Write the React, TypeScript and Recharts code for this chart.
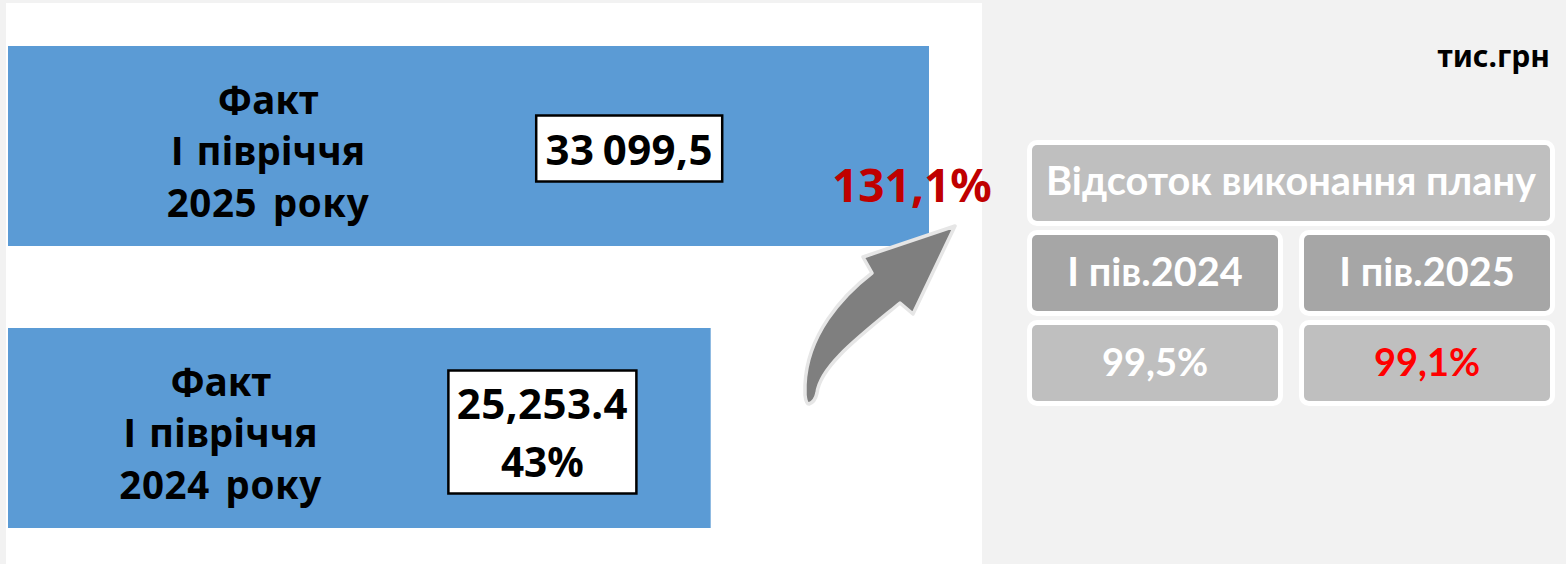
import React from "react";
import { BarChart, Bar, XAxis, YAxis, LabelList } from "recharts";

const categories = ["2025", "2024"];
const factValues = [33099.5, 25253.4];
const categoryLines = [
  ["Факт", "І півріччя", "2025 року"],
  ["Факт", "І півріччя", "2024 року"],
];
const valueLines = [["33 099,5"], ["25,253.4", "43%"]];
const growthLabel = "131,1%";
const unitLabel = "тис.грн";
const tableTitle = "Відсоток виконання плану";
const tablePeriods = ["І пів.2024", "І пів.2025"];
const tableValues = ["99,5%", "99,1%"];

const chartData = categories.map((c, i) => ({ category: c, fact: factValues[i], index: i }));

const categoryFont = "'Noto Sans', sans-serif";
const tableFont = "Lato, sans-serif";

// layout of the annotation inside each bar, as a share of the bar length
const captionShare = [0.2823, 0.3025];
const boxShare = [0.6745, 0.7605];
const boxSize = [
  { w: 186, h: 66 },
  { w: 188, h: 123 },
];

function BarNote(props: any) {
  const { x, y, width, height, index } = props;
  const cx = x + width * captionShare[index];
  const cy = y + height / 2;
  const bx = x + width * boxShare[index];
  const size = boxSize[index];
  const lines = valueLines[index];
  return (
    <g>
      {categoryLines[index].map((line, i) => (
        <text
          key={line}
          x={cx}
          y={cy - 32.5 + i * 51.5}
          textAnchor="middle"
          fontFamily={categoryFont}
          fontWeight={700}
          fontSize={38.5}
          wordSpacing={i === 2 ? 5 : 3}
          letterSpacing={i === 2 ? 0.6 : 0}
          fill="#000"
        >
          {line}
        </text>
      ))}
      <rect
        x={bx - size.w / 2}
        y={cy - size.h / 2 + (index === 0 ? 2.5 : 4)}
        width={size.w}
        height={size.h}
        fill="#fff"
        stroke="#000"
        strokeWidth={2.5}
      />
      {lines.map((line, i) => (
        <text
          key={line}
          x={bx}
          y={lines.length === 1 ? cy + 19 : cy - 9 + i * 58}
          textAnchor="middle"
          fontFamily={categoryFont}
          fontWeight={700}
          fontSize={i === 1 ? 40.5 : 42}
          wordSpacing={-3}
          letterSpacing={i === 1 ? 0 : 0.4}
          fill="#000"
        >
          {line}
        </text>
      ))}
    </g>
  );
}

const cell = (left: number, top: number, right: number, bottom: number, bg: string, color: string, text: string, size: number, lift: number) => (
  <div
    key={text}
    style={{
      position: "absolute",
      left,
      top,
      width: right - left,
      height: bottom - top,
      background: bg,
      borderRadius: 5,
      boxShadow: "0 0 0 5px #fff",
      color,
      fontFamily: tableFont,
      fontWeight: 700,
      fontSize: size,
      display: "flex",
      alignItems: "center",
      justifyContent: "center",
      whiteSpace: "nowrap",
      paddingBottom: lift,
      boxSizing: "border-box",
    }}
  >
    {text}
  </div>
);

export default function App() {
  return (
    <div style={{ position: "absolute", left: 0, top: 0, width: 1566, height: 564, overflow: "hidden", background: "#f2f2f2" }}>
      <div style={{ position: "absolute", left: 6, top: 3, width: 976, height: 561, background: "#fff" }} />
      <div style={{ position: "absolute", left: 0, top: 0 }}>
        <BarChart
          width={1566}
          height={600}
          data={chartData}
          layout="vertical"
          margin={{ left: 8, right: 445, top: 5, bottom: 31 }}
        >
          <XAxis type="number" domain={[0, 40000]} hide />
          <YAxis type="category" dataKey="category" hide />
          <Bar dataKey="fact" fill="#5b9bd5" barSize={200} isAnimationActive={false}>
            <LabelList dataKey="fact" content={BarNote} />
          </Bar>
        </BarChart>
      </div>
      <svg width={1566} height={564} style={{ position: "absolute", left: 0, top: 0 }}>
        <path
          d="M955 226 L863 257 L872 273 C842 296 807 335 805 385 L805 395 Q806 404 809 404 Q815 402 817 393 C820 366 860 336 900 303 L913 314 Z"
          fill="#7f7f7f"
          stroke="#e6e6e6"
          strokeWidth={3.5}
          strokeLinejoin="round"
        />
        <text x={832} y={202} fontFamily={categoryFont} fontWeight={700} fontSize={46} fill="#c00000">
          {growthLabel}
        </text>
        <text x={1550} y={67} textAnchor="end" fontFamily={categoryFont} fontWeight={700} fontSize={30} fill="#000">
          {unitLabel}
        </text>
      </svg>
      {cell(1032, 145, 1550, 221, "#bfbfbf", "#fff", tableTitle, 39.7, 8)}
      {cell(1032, 235, 1278, 311, "#a6a6a6", "#fff", tablePeriods[0], 39.7, 6)}
      {cell(1304, 235, 1550, 311, "#a6a6a6", "#fff", tablePeriods[1], 39.7, 6)}
      {cell(1032, 325, 1278, 401, "#bfbfbf", "#fff", tableValues[0], 38, 4)}
      {cell(1304, 325, 1550, 401, "#bfbfbf", "#ff0000", tableValues[1], 38, 4)}
    </div>
  );
}
